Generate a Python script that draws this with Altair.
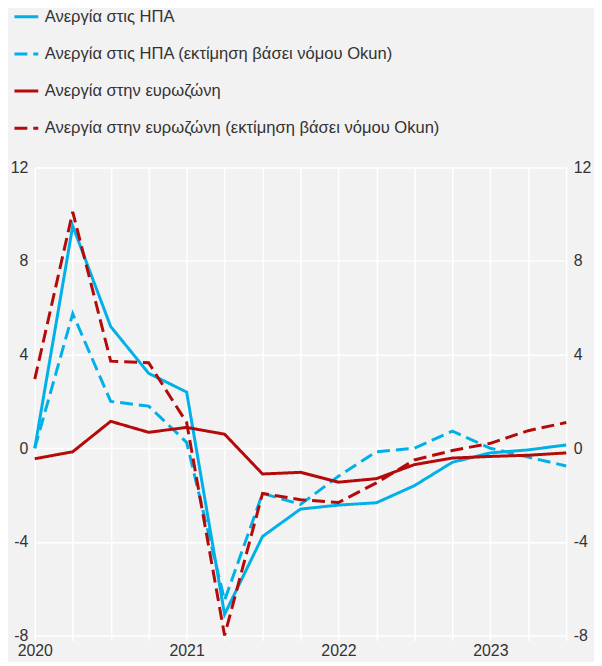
import altair as alt
import pandas as pd

quarters = ["2020Q1", "2020Q2", "2020Q3", "2020Q4",
            "2021Q1", "2021Q2", "2021Q3", "2021Q4",
            "2022Q1", "2022Q2", "2022Q3", "2022Q4",
            "2023Q1", "2023Q2", "2023Q3"]

series_names = ["Ανεργία στις ΗΠΑ",
                "Ανεργία στις ΗΠΑ (εκτίμηση βάσει νόμου Okun)",
                "Ανεργία στην ευρωζώνη",
                "Ανεργία στην ευρωζώνη (εκτίμηση βάσει νόμου Okun)"]

us_actual = [0.0, 9.5, 5.2, 3.2, 2.4, -7.1, -3.77, -2.6, -2.43, -2.33, -1.6, -0.6, -0.2, -0.07, 0.14]
us_okun = [0.0, 5.75, 2.0, 1.8, 0.25, -6.5, -1.93, -2.4, -1.2, -0.15, 0.0, 0.73, 0.0, -0.38, -0.76]
ez_actual = [-0.45, -0.15, 1.15, 0.68, 0.89, 0.6, -1.1, -1.03, -1.45, -1.3, -0.7, -0.42, -0.35, -0.3, -0.2]
ez_okun = [2.95, 10.1, 3.72, 3.65, 1.1, -8.0, -1.93, -2.2, -2.32, -1.48, -0.5, -0.1, 0.21, 0.75, 1.1]

y_ticks = [-8, -4, 0, 4, 8, 12]

colors = ["#00b0e8", "#00b0e8", "#b40a0a", "#b40a0a"]
dashes = [[1, 0], [13, 6], [1, 0], [13, 6]]

rows = []
for name, vals in zip(series_names, [us_actual, us_okun, ez_actual, ez_okun]):
    for q, v in zip(quarters, vals):
        rows.append({"quarter": q, "value": v, "series": name})
df = pd.DataFrame(rows)

legend = alt.Legend(
    title=None, orient="none", legendX=-22, legendY=-165.5,
    direction="vertical", symbolType="stroke", symbolSize=576,
    symbolStrokeWidth=3, labelFontSize=16.7, labelColor="#333333",
    labelFont="Liberation Sans", rowPadding=14.5, labelOffset=5,
    labelLimit=0, padding=0,
)

x_enc = alt.X(
    "quarter:O", sort=quarters, title=None,
    scale=alt.Scale(type="point", padding=0),
    axis=alt.Axis(
        labelExpr="indexof(datum.value, 'Q1') >= 0 ? substring(datum.value, 0, 4) : ''",
        labelAngle=0, grid=True, gridColor="white", gridWidth=1.5,
        ticks=True, tickColor="white", tickSize=5, tickWidth=1.5,
        domain=False, labelFontSize=16, labelColor="#333333",
        labelFont="Liberation Sans", labelPadding=2,
    ),
)

y_scale = alt.Scale(domain=[-8, 12], nice=False, zero=False)

lines = alt.Chart(df).mark_line(strokeWidth=3).encode(
    x=x_enc,
    y=alt.Y("value:Q", scale=y_scale, title=None,
            axis=alt.Axis(orient="left", values=y_ticks, grid=True,
                          labelExpr="toString(datum.value)",
                          gridColor="white", gridWidth=1.5, ticks=False,
                          domain=False, labelFontSize=16, labelColor="#333333",
                          labelFont="Liberation Sans", labelPadding=7)),
    color=alt.Color("series:N", scale=alt.Scale(domain=series_names, range=colors),
                    legend=legend, sort=series_names),
    strokeDash=alt.StrokeDash("series:N", scale=alt.Scale(domain=series_names, range=dashes),
                              legend=legend, sort=series_names),
    order=alt.Order("series:N"),
)

right = alt.Chart(df).mark_line(opacity=0).encode(
    x=alt.X("quarter:O", sort=quarters),
    y=alt.Y("value:Q", scale=y_scale, title=None,
            axis=alt.Axis(orient="right", values=y_ticks, grid=False, ticks=False,
                          labelExpr="toString(datum.value)",
                          domain=False, labelFontSize=16, labelColor="#333333",
                          labelFont="Liberation Sans", labelPadding=7)),
    detail="series:N",
)

chart = alt.layer(lines, right).resolve_scale(y="independent").properties(
    width=536, height=472,
    autosize=alt.AutoSizeParams(type="none"),
    padding={"left": 27, "top": 158, "right": 28, "bottom": 24},
    background="#f2f2f2",
).configure_view(stroke=None, fill="#f2f2f2")

chart.save("out.html", embed_options={"renderer": "svg", "actions": False})
